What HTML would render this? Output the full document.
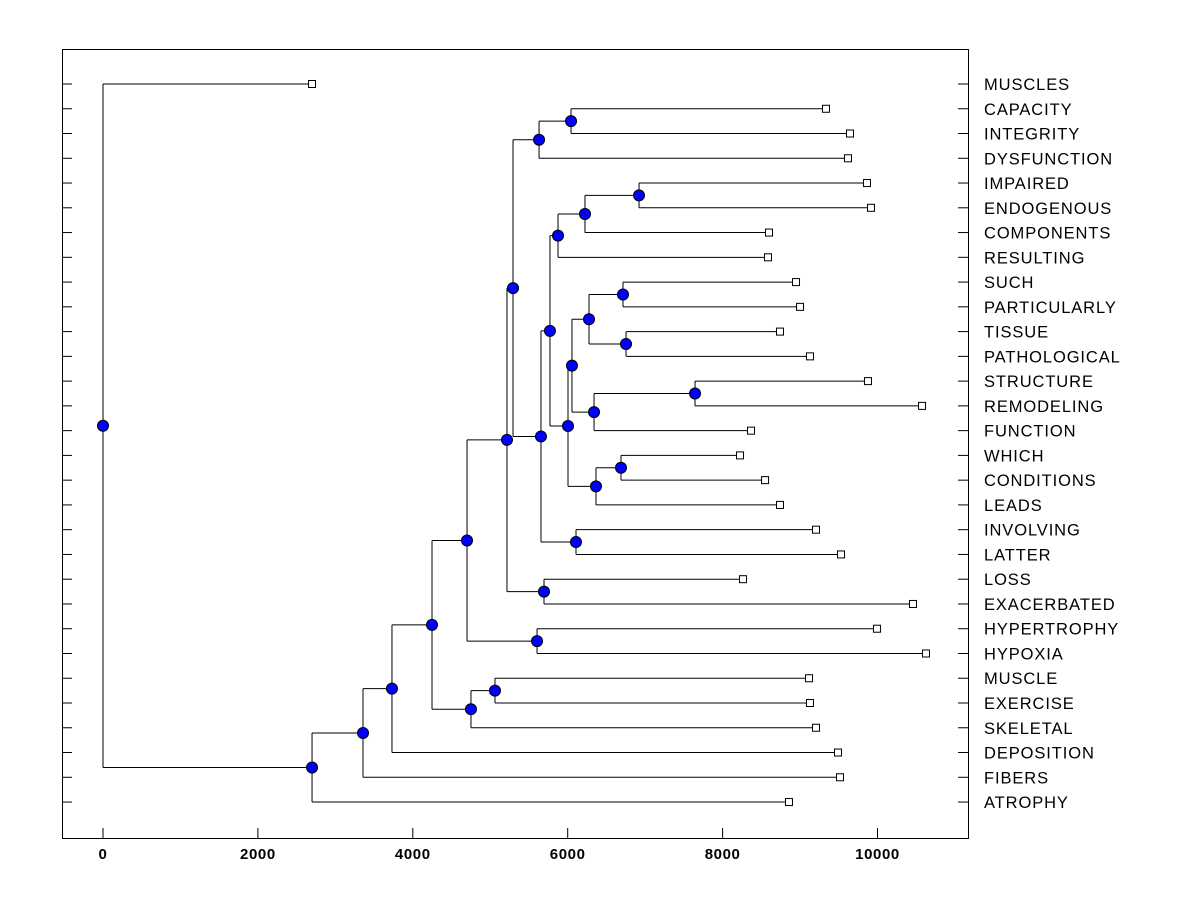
<!DOCTYPE html>
<html><head><meta charset="utf-8"><style>
body{margin:0;background:#fff;}
svg{display:block;font-family:"Liberation Sans",Arial,sans-serif;}
</style></head><body>
<svg id="chart" width="1200" height="900" viewBox="0 0 1200 900">
<rect x="62.5" y="49.5" width="906" height="789" fill="#fff" stroke="#000" stroke-width="1"/>
<g id="g"></g>
</svg>
<script>
const leafNames=["MUSCLES","CAPACITY","INTEGRITY","DYSFUNCTION","IMPAIRED","ENDOGENOUS","COMPONENTS","RESULTING","SUCH","PARTICULARLY","TISSUE","PATHOLOGICAL","STRUCTURE","REMODELING","FUNCTION","WHICH","CONDITIONS","LEADS","INVOLVING","LATTER","LOSS","EXACERBATED","HYPERTROPHY","HYPOXIA","MUSCLE","EXERCISE","SKELETAL","DEPOSITION","FIBERS","ATROPHY"];
const leafValues=[2699,9335,9645,9619,9864,9916,8599,8586,8948,9000,8741,9128,9877,10575,8367,8225,8548,8741,9206,9529,8263,10458,9993,10626,9116,9128,9206,9490,9516,8857];
const nodeIds=["N","T","Y","Z","AA","AB","F","E","H","K","P","S","W","X","V","U","Q","R","O","L","M","J","I","G","D","C","B","A","ROOT"];
const nodeLeft=["L1","L4","L8","L10","L12","L15","L24","L26","L22","L20","L18","T","Y","AA","AB","W","S","U","Q","N","O","L","J","H","E","L27","L28","L29","L0"];
const nodeRight=["L2","L5","L9","L11","L13","L16","L25","F","L23","L21","L19","L6","Z","L14","L17","X","L7","V","R","L3","P","M","K","I","G","D","C","B","A"];
const nodeHeights=[6043,6921,6714,6753,7644,6688,5061,4751,5604,5694,6107,6223,6275,6340,6365,6055,5875,6004,5771,5630,5655,5294,5216,4700,4248,3731,3357,2699,0];
const xTicks=[0,2000,4000,6000,8000,10000];

const NS="http://www.w3.org/2000/svg";
const g=document.getElementById('g');
const X=v=>103+v*0.07745;
const Y=i=>84+i*24.76;
function mk(t,a){const e=document.createElementNS(NS,t);for(const k in a)e.setAttribute(k,a[k]);g.appendChild(e);return e;}
const pos={};
leafNames.forEach((n,i)=>{pos['L'+i]={x:X(leafValues[i]),y:Y(i)};});
const lines=[],dots=[];
nodeIds.forEach((id,k)=>{
  const a=pos[nodeLeft[k]],b=pos[nodeRight[k]],x=X(nodeHeights[k]);
  const y=(a.y+b.y)/2;pos[id]={x,y};
  lines.push([x,a.y,a.x,a.y,id+'-left-branch'],[x,b.y,b.x,b.y,id+'-right-branch'],[x,a.y,x,b.y,id+'-vertical']);
  dots.push([x,y,id]);
});
lines.forEach(l=>{
  const e=mk('line',{x1:l[0],y1:l[1],x2:l[2],y2:l[3],stroke:'#000','stroke-width':1});
  
  
});
leafNames.forEach((n,i)=>{
  const p=pos['L'+i];
  const s=mk('rect',{x:p.x-3.5,y:p.y-3.5,width:7,height:7,fill:'#fff',stroke:'#000','stroke-width':1});
  
  
  const t1=mk('line',{x1:62,x2:72,y1:p.y,y2:p.y,stroke:'#000'});
  
  
  const t2=mk('line',{x1:958,x2:968,y1:p.y,y2:p.y,stroke:'#000'});
  
  
  const tx=mk('text',{x:984,y:p.y+6,'font-size':16.5,'letter-spacing':0.9,fill:'#000'});
  tx.textContent=n;
  
  
});
dots.forEach(d=>{
  const c=mk('circle',{cx:d[0],cy:d[1],r:5.5,fill:'#0000ff',stroke:'#000','stroke-width':1});
  
  
});
xTicks.forEach(v=>{
  const l=mk('line',{x1:X(v),x2:X(v),y1:828,y2:838,stroke:'#000'});
  
  
  const t=mk('text',{x:X(v),y:859,'font-size':15,'font-weight':'bold','letter-spacing':0.6,'text-anchor':'middle'});
  t.textContent=v;
  
  
});
</script>
</body></html>
